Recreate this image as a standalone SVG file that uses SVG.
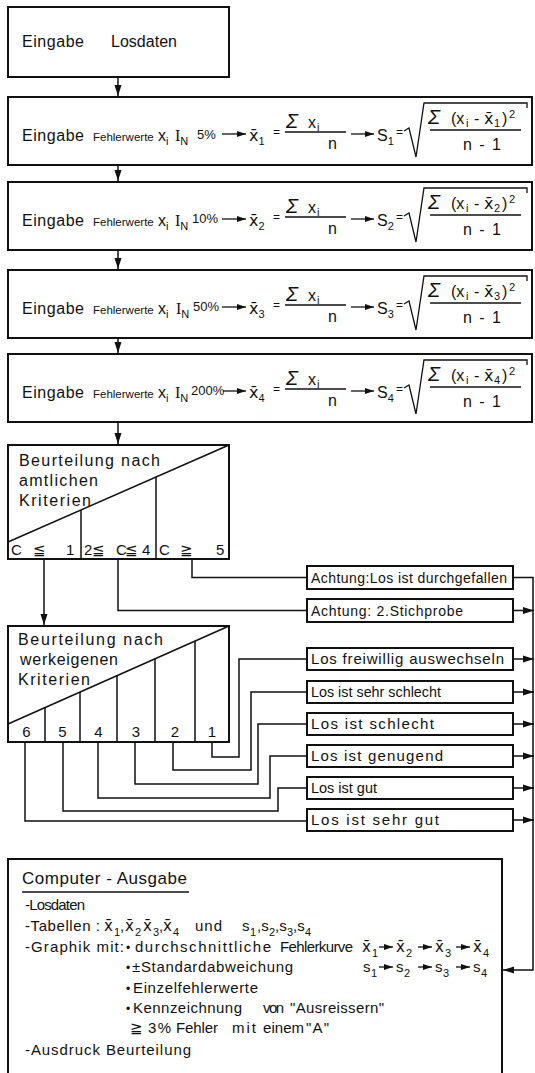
<svg xmlns="http://www.w3.org/2000/svg" width="535" height="1073" viewBox="0 0 535 1073">
<defs>
<marker id="ah" markerUnits="userSpaceOnUse" markerWidth="12" markerHeight="10" refX="11" refY="5" orient="auto"><path d="M0,1.5 L11,5 L0,8.5 z" fill="#111"/></marker>
<marker id="sa" markerUnits="userSpaceOnUse" markerWidth="10" markerHeight="8" refX="9" refY="4" orient="auto"><path d="M0,1 L9,4 L0,7 z" fill="#111"/></marker>
<style>
.b{fill:#fff;stroke:#111;stroke-width:2}
.c{fill:none;stroke:#111;stroke-width:1.5}
.ca{fill:none;stroke:#111;stroke-width:1.5;marker-end:url(#ah)}
.fa{stroke:#111;stroke-width:1.3;marker-end:url(#sa)}
.fb{fill:none;stroke:#111;stroke-width:1.3}
text{font-family:"Liberation Sans","DejaVu Sans",sans-serif;fill:#111}
.m{font-size:16px}
.s{font-size:11.5px}
.sb{font-size:11px}
.sp{font-size:11px}
.eq{font-size:12px}
.p{font-size:13px}
.sg{font-size:20px;font-style:italic}
.xb{font-family:"DejaVu Sans",sans-serif}
.se{font-family:"Liberation Serif",serif}
.l{font-size:15px}
.a{font-size:14px}
.k{font-size:15px}
</style>
</defs>
<rect width="535" height="1073" fill="#fff"/>

<g id="n1">
<rect class="b" x="8" y="7" width="221" height="70"/>
<text class="m" x="22" y="47" textLength="62" lengthAdjust="spacing">Eingabe</text>
<text class="m" x="111" y="47" textLength="66" lengthAdjust="spacing">Losdaten</text>
</g>

<g id="n2" transform="translate(0,97)">
<rect class="b" x="8" y="0" width="524" height="68"/>
<text class="m" x="22" y="44" textLength="62" lengthAdjust="spacing">Eingabe</text>
<text class="s" x="93" y="44">Fehlerwerte</text>
<text class="m" x="158" y="44">x<tspan class="sb" dy="4">i</tspan></text>
<text class="m" x="175" y="44"><tspan class="se">I</tspan><tspan class="sb" dy="4">N</tspan></text>
<text class="p" x="197" y="42">5%</text>
<line class="fa" x1="222" y1="37" x2="246" y2="37"/>
<text class="m" x="249" y="44"><tspan class="xb">x̄</tspan><tspan class="sb" dy="4">1</tspan></text>
<text class="eq" x="273" y="39">=</text>
<text y="31"><tspan class="sg" x="286">Σ</tspan><tspan class="m" x="308">x</tspan><tspan class="sb" x="317" dy="3">i</tspan></text>
<line class="fb" x1="285" y1="35" x2="346" y2="35"/>
<text class="m" x="328" y="52">n</text>
<line class="fa" x1="351" y1="37" x2="374" y2="37"/>
<text class="m" x="377" y="44">S<tspan class="sb" dy="4">1</tspan></text>
<text class="eq" x="396" y="39">=</text>
<path class="fb" d="M404,34 L409,31 L416,60 L424,6 H527 V11"/>
<text class="m" y="27"><tspan class="sg" x="428">Σ</tspan><tspan x="451">(x</tspan><tspan class="sb" x="466" dy="3">i</tspan><tspan x="474" dy="-3">-</tspan><tspan class="xb" x="484">x̄</tspan><tspan class="sb" x="494" dy="3">1</tspan><tspan x="502" dy="-3">)</tspan><tspan class="sp" x="509" dy="-6">2</tspan></text>
<line class="fb" x1="430" y1="33" x2="521" y2="33"/>
<text class="m" x="463" y="53" textLength="38" lengthAdjust="spacing">n - 1</text>
</g>

<g id="n3" transform="translate(0,182)">
<rect class="b" x="8" y="0" width="524" height="68"/>
<text class="m" x="22" y="44" textLength="62" lengthAdjust="spacing">Eingabe</text>
<text class="s" x="93" y="44">Fehlerwerte</text>
<text class="m" x="158" y="44">x<tspan class="sb" dy="4">i</tspan></text>
<text class="m" x="175" y="44"><tspan class="se">I</tspan><tspan class="sb" dy="4">N</tspan></text>
<text class="p" x="192" y="41">10%</text>
<line class="fa" x1="222" y1="37" x2="246" y2="37"/>
<text class="m" x="249" y="44"><tspan class="xb">x̄</tspan><tspan class="sb" dy="4">2</tspan></text>
<text class="eq" x="273" y="39">=</text>
<text y="31"><tspan class="sg" x="286">Σ</tspan><tspan class="m" x="308">x</tspan><tspan class="sb" x="317" dy="3">i</tspan></text>
<line class="fb" x1="285" y1="35" x2="346" y2="35"/>
<text class="m" x="328" y="52">n</text>
<line class="fa" x1="351" y1="37" x2="374" y2="37"/>
<text class="m" x="377" y="44">S<tspan class="sb" dy="4">2</tspan></text>
<text class="eq" x="396" y="39">=</text>
<path class="fb" d="M404,34 L409,31 L416,60 L424,6 H527 V11"/>
<text class="m" y="27"><tspan class="sg" x="428">Σ</tspan><tspan x="451">(x</tspan><tspan class="sb" x="466" dy="3">i</tspan><tspan x="474" dy="-3">-</tspan><tspan class="xb" x="484">x̄</tspan><tspan class="sb" x="494" dy="3">2</tspan><tspan x="502" dy="-3">)</tspan><tspan class="sp" x="509" dy="-6">2</tspan></text>
<line class="fb" x1="430" y1="33" x2="521" y2="33"/>
<text class="m" x="463" y="53" textLength="38" lengthAdjust="spacing">n - 1</text>
</g>

<g id="n4" transform="translate(0,270)">
<rect class="b" x="8" y="0" width="524" height="68"/>
<text class="m" x="22" y="44" textLength="62" lengthAdjust="spacing">Eingabe</text>
<text class="s" x="93" y="44">Fehlerwerte</text>
<text class="m" x="158" y="44">x<tspan class="sb" dy="4">i</tspan></text>
<text class="m" x="176" y="44"><tspan class="se">I</tspan><tspan class="sb" dy="4">N</tspan></text>
<text class="p" x="193" y="41">50%</text>
<line class="fa" x1="222" y1="37" x2="246" y2="37"/>
<text class="m" x="249" y="44"><tspan class="xb">x̄</tspan><tspan class="sb" dy="4">3</tspan></text>
<text class="eq" x="273" y="39">=</text>
<text y="31"><tspan class="sg" x="286">Σ</tspan><tspan class="m" x="308">x</tspan><tspan class="sb" x="317" dy="3">i</tspan></text>
<line class="fb" x1="285" y1="35" x2="346" y2="35"/>
<text class="m" x="328" y="52">n</text>
<line class="fa" x1="351" y1="37" x2="374" y2="37"/>
<text class="m" x="377" y="44">S<tspan class="sb" dy="4">3</tspan></text>
<text class="eq" x="396" y="39">=</text>
<path class="fb" d="M404,34 L409,31 L416,60 L424,6 H527 V11"/>
<text class="m" y="27"><tspan class="sg" x="428">Σ</tspan><tspan x="451">(x</tspan><tspan class="sb" x="466" dy="3">i</tspan><tspan x="474" dy="-3">-</tspan><tspan class="xb" x="484">x̄</tspan><tspan class="sb" x="494" dy="3">3</tspan><tspan x="502" dy="-3">)</tspan><tspan class="sp" x="509" dy="-6">2</tspan></text>
<line class="fb" x1="430" y1="33" x2="521" y2="33"/>
<text class="m" x="463" y="53" textLength="38" lengthAdjust="spacing">n - 1</text>
</g>

<g id="n5" transform="translate(0,354)">
<rect class="b" x="8" y="0" width="524" height="68"/>
<text class="m" x="22" y="44" textLength="62" lengthAdjust="spacing">Eingabe</text>
<text class="s" x="93" y="44">Fehlerwerte</text>
<text class="m" x="158" y="44">x<tspan class="sb" dy="4">i</tspan></text>
<text class="m" x="175" y="44"><tspan class="se">I</tspan><tspan class="sb" dy="4">N</tspan></text>
<text class="p" x="191" y="41">200%</text>
<line class="fa" x1="223" y1="37" x2="246" y2="37"/>
<text class="m" x="249" y="44"><tspan class="xb">x̄</tspan><tspan class="sb" dy="4">4</tspan></text>
<text class="eq" x="273" y="39">=</text>
<text y="31"><tspan class="sg" x="286">Σ</tspan><tspan class="m" x="308">x</tspan><tspan class="sb" x="317" dy="3">i</tspan></text>
<line class="fb" x1="285" y1="35" x2="346" y2="35"/>
<text class="m" x="328" y="52">n</text>
<line class="fa" x1="351" y1="37" x2="374" y2="37"/>
<text class="m" x="377" y="44">S<tspan class="sb" dy="4">4</tspan></text>
<text class="eq" x="396" y="39">=</text>
<path class="fb" d="M404,34 L409,31 L416,60 L424,6 H527 V11"/>
<text class="m" y="27"><tspan class="sg" x="428">Σ</tspan><tspan x="451">(x</tspan><tspan class="sb" x="466" dy="3">i</tspan><tspan x="474" dy="-3">-</tspan><tspan class="xb" x="484">x̄</tspan><tspan class="sb" x="494" dy="3">4</tspan><tspan x="502" dy="-3">)</tspan><tspan class="sp" x="509" dy="-6">2</tspan></text>
<line class="fb" x1="430" y1="33" x2="521" y2="33"/>
<text class="m" x="463" y="53" textLength="38" lengthAdjust="spacing">n - 1</text>
</g>

<g id="n6">
<rect class="b" x="8" y="445" width="221" height="114"/>
<line class="c" x1="8" y1="542" x2="229" y2="445"/>
<line class="c" x1="81" y1="510" x2="81" y2="559"/>
<line class="c" x1="156" y1="477" x2="156" y2="559"/>
<text class="m" x="19" y="466" textLength="141" lengthAdjust="spacing">Beurteilung nach</text>
<text class="m" x="19" y="486" textLength="79" lengthAdjust="spacing">amtlichen</text>
<text class="m" x="19" y="506" textLength="72" lengthAdjust="spacing">Kriterien</text>
<text class="l" x="11 22 33 55 66" y="555">C ≦ 1</text>
<text class="l" x="84 92 116 125 142" y="555">2≦C≦4</text>
<text class="l" x="159 170 180 205 216" y="555">C ≧ 5</text>
</g>

<g id="n7">
<rect class="b" x="307" y="566" width="206" height="23"/>
<text class="a" x="311" y="583" textLength="196" lengthAdjust="spacing">Achtung:Los ist durchgefallen</text>
</g>
<g id="n8">
<rect class="b" x="307" y="599" width="206" height="23"/>
<text class="a" x="311" y="616" textLength="152" lengthAdjust="spacing">Achtung: 2.Stichprobe</text>
</g>

<g id="n9">
<rect class="b" x="8" y="626" width="221" height="116"/>
<line class="c" x1="8" y1="724" x2="229" y2="626"/>
<line class="c" x1="45" y1="707.6" x2="45" y2="742"/>
<line class="c" x1="80" y1="692.1" x2="80" y2="742"/>
<line class="c" x1="117" y1="675.7" x2="117" y2="742"/>
<line class="c" x1="155" y1="658.8" x2="155" y2="742"/>
<line class="c" x1="195" y1="641.1" x2="195" y2="742"/>
<text class="m" x="18" y="645" textLength="145" lengthAdjust="spacing">Beurteilung nach</text>
<text class="m" x="20" y="665" textLength="98" lengthAdjust="spacing">werkeigenen</text>
<text class="m" x="18" y="685" textLength="72" lengthAdjust="spacing">Kriterien</text>
<text class="l" x="26.5" y="737" text-anchor="middle">6</text>
<text class="l" x="62.5" y="737" text-anchor="middle">5</text>
<text class="l" x="98.5" y="737" text-anchor="middle">4</text>
<text class="l" x="136" y="737" text-anchor="middle">3</text>
<text class="l" x="175" y="737" text-anchor="middle">2</text>
<text class="l" x="212" y="737" text-anchor="middle">1</text>
</g>

<g id="n10"><rect class="b" x="307" y="648" width="206" height="22"/><text class="l" x="311" y="664" textLength="193" lengthAdjust="spacing">Los freiwillig auswechseln</text></g>
<g id="n11"><rect class="b" x="307" y="681" width="206" height="22"/><text class="l" x="311" y="697" textLength="130" lengthAdjust="spacingAndGlyphs">Los ist sehr schlecht</text></g>
<g id="n12"><rect class="b" x="307" y="713" width="206" height="22"/><text class="l" x="311" y="729" textLength="123" lengthAdjust="spacing">Los ist schlecht</text></g>
<g id="n13"><rect class="b" x="307" y="745" width="206" height="22"/><text class="l" x="311" y="761" textLength="132" lengthAdjust="spacing">Los ist genugend</text></g>
<g id="n14"><rect class="b" x="307" y="777" width="206" height="22"/><text class="l" x="311" y="793" textLength="66" lengthAdjust="spacingAndGlyphs">Los ist gut</text></g>
<g id="n15"><rect class="b" x="307" y="809" width="206" height="22"/><text class="l" x="311" y="825" textLength="128" lengthAdjust="spacing">Los ist sehr gut</text></g>

<g id="n16">
<rect class="b" x="8" y="859" width="494" height="222"/>
<text x="22" y="884" font-size="17" textLength="165" lengthAdjust="spacing">Computer - Ausgabe</text>
<line class="fb" x1="22" y1="892" x2="189" y2="892"/>
<text class="k" x="25" y="910" textLength="60" lengthAdjust="spacing">-Losdaten</text>
<text class="k" x="25" y="931" textLength="75" lengthAdjust="spacing">-Tabellen :</text>
<text class="k" y="931"><tspan class="xb" x="104">x̄</tspan><tspan class="sb" x="114" y="936">1</tspan><tspan x="120" y="931">,</tspan><tspan class="xb" x="125">x̄</tspan><tspan class="sb" x="135" y="936">2</tspan><tspan class="xb" x="143" y="931">x̄</tspan><tspan class="sb" x="153" y="936">3</tspan><tspan x="159" y="931">,</tspan><tspan class="xb" x="163">x̄</tspan><tspan class="sb" x="173" y="936">4</tspan></text>
<text class="k" x="195" y="931" textLength="27" lengthAdjust="spacing">und</text>
<text class="k" y="931"><tspan x="242">s</tspan><tspan class="sb" x="250" y="936">1</tspan><tspan x="257" y="931">,s</tspan><tspan class="sb" x="269" y="936">2</tspan><tspan x="275" y="931">,s</tspan><tspan class="sb" x="287" y="936">3</tspan><tspan x="293" y="931">,s</tspan><tspan class="sb" x="305" y="936">4</tspan></text>
<text class="k" x="25" y="952" textLength="99" lengthAdjust="spacing">-Graphik mit:</text>
<text x="126" y="952" font-size="12">•</text>
<text class="k" x="135" y="952" textLength="136" lengthAdjust="spacing">durchschnittliche</text>
<text class="k" x="280" y="952" textLength="73" lengthAdjust="spacing">Fehlerkurve</text>
<text class="k" y="952"><tspan class="xb" x="362">x̄</tspan><tspan class="sb" x="372" y="957">1</tspan><tspan class="xb" x="396" y="952">x̄</tspan><tspan class="sb" x="406" y="957">2</tspan><tspan class="xb" x="435" y="952">x̄</tspan><tspan class="sb" x="445" y="957">3</tspan><tspan class="xb" x="473" y="952">x̄</tspan><tspan class="sb" x="483" y="957">4</tspan></text>
<line class="fa" x1="379" y1="947" x2="393" y2="947"/>
<line class="fa" x1="418" y1="947" x2="432" y2="947"/>
<line class="fa" x1="456" y1="947" x2="470" y2="947"/>
<text x="126" y="972" font-size="12">•</text>
<text class="k" x="132" y="972" textLength="161" lengthAdjust="spacing">±Standardabweichung</text>
<text class="k" y="972"><tspan x="363">s</tspan><tspan class="sb" x="371" y="977">1</tspan><tspan x="396" y="972">s</tspan><tspan class="sb" x="404" y="977">2</tspan><tspan x="435" y="972">s</tspan><tspan class="sb" x="443" y="977">3</tspan><tspan x="473" y="972">s</tspan><tspan class="sb" x="481" y="977">4</tspan></text>
<line class="fa" x1="379" y1="967" x2="393" y2="967"/>
<line class="fa" x1="418" y1="967" x2="432" y2="967"/>
<line class="fa" x1="456" y1="967" x2="470" y2="967"/>
<text x="126" y="993" font-size="12">•</text>
<text class="k" x="133" y="993" textLength="125" lengthAdjust="spacing">Einzelfehlerwerte</text>
<text x="126" y="1013" font-size="12">•</text>
<text class="k" x="133" y="1013" textLength="109" lengthAdjust="spacing">Kennzeichnung</text>
<text class="k" x="263" y="1013" textLength="21" lengthAdjust="spacing">von</text>
<text class="k" x="290" y="1013" textLength="94" lengthAdjust="spacing">"Ausreissern"</text>
<text class="k" x="130" y="1033">≧</text>
<text class="k" x="148" y="1033" textLength="23" lengthAdjust="spacing">3%</text>
<text class="k" x="176" y="1033" textLength="42" lengthAdjust="spacing">Fehler</text>
<text class="k" x="232" y="1033" textLength="24" lengthAdjust="spacing">mit</text>
<text class="k" x="263" y="1033" textLength="41" lengthAdjust="spacing">einem</text>
<text class="k" x="306" y="1033" textLength="23" lengthAdjust="spacing">"A"</text>
<text class="k" x="25" y="1055" textLength="166" lengthAdjust="spacing">-Ausdruck Beurteilung</text>
</g>

<g id="connectors">
<line class="ca" x1="118" y1="77" x2="118" y2="96"/>
<line class="ca" x1="118" y1="165" x2="118" y2="181"/>
<line class="ca" x1="118" y1="250" x2="118" y2="269"/>
<line class="ca" x1="118" y1="338" x2="118" y2="353"/>
<line class="ca" x1="118" y1="422" x2="118" y2="444"/>
<line class="ca" x1="44" y1="559" x2="44" y2="625"/>
<path class="c" d="M118,559 V610.5 H307"/>
<path class="c" d="M192,559 V577.5 H307"/>
<path class="ca" d="M513,577.5 H533 V970 H503"/>
<line class="ca" x1="513" y1="610.5" x2="534" y2="610.5"/>
<path class="c" d="M212,742 V757 H239 V659 H307"/>
<path class="c" d="M173,742 V770 H251 V692 H307"/>
<path class="c" d="M135,742 V784 H258 V724 H307"/>
<path class="c" d="M98,742 V798 H270 V756 H307"/>
<path class="c" d="M63,742 V811 H278 V788 H307"/>
<path class="c" d="M25,742 V821 H307"/>
<line class="ca" x1="513" y1="659" x2="534" y2="659"/>
<line class="ca" x1="513" y1="692" x2="534" y2="692"/>
<line class="ca" x1="513" y1="724" x2="534" y2="724"/>
<line class="ca" x1="513" y1="756" x2="534" y2="756"/>
<line class="ca" x1="513" y1="788" x2="534" y2="788"/>
<line class="ca" x1="513" y1="820" x2="534" y2="820"/>
</g>
</svg>
